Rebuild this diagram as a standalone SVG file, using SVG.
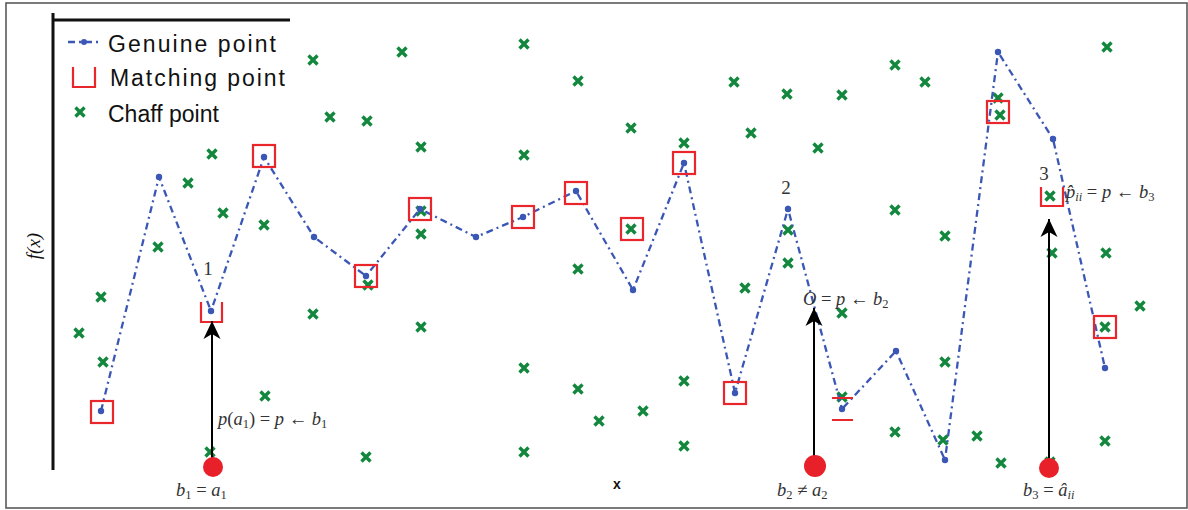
<svg xmlns="http://www.w3.org/2000/svg" xmlns:xlink="http://www.w3.org/1999/xlink" width="1188" height="510" viewBox="0 0 1188 510">
<style>
.frame{fill:#fff;stroke:#5a5a5a;stroke-width:1.6}
.axis{stroke:#111;stroke-width:3;fill:none}
.gen{fill:none;stroke:#3b57b5;stroke-width:2.3;stroke-dasharray:7 4 2 4}
.dot{fill:#3b57b5}
.mq{fill:none;stroke:#e8262c;stroke-width:2.2}
.cx{stroke:#13873d;stroke-width:3.4;fill:none}
.leg{font-family:"Liberation Sans",Arial,sans-serif;font-size:23px;fill:#111}
.math{font-family:"Liberation Serif","Times New Roman",serif;font-size:18.5px;fill:#333}
.num{font-family:"Liberation Serif","Times New Roman",serif;font-size:19px;fill:#333}
.it{font-style:italic}
.sub{font-size:12.5px}
.arrow{stroke:#000;stroke-width:2;fill:none}
.bc{fill:#e8202a}
</style>
<defs>
<path id="x" class="cx" d="M-4.5,-4.5L4.5,4.5M4.5,-4.5L-4.5,4.5"/>
<marker id="ah" viewBox="-18 -10 20 20" refX="0" refY="0" markerWidth="20" markerHeight="20" markerUnits="userSpaceOnUse" orient="auto">
<path d="M0,0L-18,-8.5L-13,0L-18,8.5Z" fill="#000"/>
</marker>
</defs>
<rect class="frame" x="6" y="3" width="1181" height="505"/>

<g id="axes">
<path class="axis" d="M53,13V470"/>
<path class="axis" d="M53,20H290"/>
<text x="40" y="246" transform="rotate(-90 40 246)" text-anchor="middle" style="font-family:'Liberation Serif',serif;font-size:19px;font-style:italic;fill:#111">f(x)</text>
<text x="617" y="489" text-anchor="middle" style="font-family:'Liberation Sans',sans-serif;font-size:14px;font-weight:bold;fill:#111">x</text>
</g>

<g id="legend">
<path class="gen" d="M68,42H102"/><circle class="dot" cx="84" cy="42" r="3"/>
<text class="leg" x="108" y="52" textLength="168">Genuine point</text>
<path class="mq" d="M73,67V87H95V67"/>
<text class="leg" x="110" y="86" textLength="175">Matching point</text>
<use xlink:href="#x" x="80" y="112"/>
<text class="leg" x="108" y="122">Chaff point</text>
</g>

<g id="chaff">
<use xlink:href="#x" x="79" y="333"/><use xlink:href="#x" x="101" y="297"/><use xlink:href="#x" x="103" y="362"/>
<use xlink:href="#x" x="158" y="247"/><use xlink:href="#x" x="188" y="183"/><use xlink:href="#x" x="212" y="154"/>
<use xlink:href="#x" x="223" y="213"/><use xlink:href="#x" x="264" y="225"/><use xlink:href="#x" x="265" y="396"/>
<use xlink:href="#x" x="210" y="452"/><use xlink:href="#x" x="313" y="60"/><use xlink:href="#x" x="402" y="52"/>
<use xlink:href="#x" x="524" y="44"/><use xlink:href="#x" x="578" y="81"/><use xlink:href="#x" x="330" y="117"/>
<use xlink:href="#x" x="367" y="121"/><use xlink:href="#x" x="421" y="147"/><use xlink:href="#x" x="524" y="155"/>
<use xlink:href="#x" x="631" y="128"/><use xlink:href="#x" x="684" y="143"/><use xlink:href="#x" x="421" y="211"/>
<use xlink:href="#x" x="421" y="234"/><use xlink:href="#x" x="368" y="285"/><use xlink:href="#x" x="313" y="314"/>
<use xlink:href="#x" x="421" y="327"/><use xlink:href="#x" x="366" y="457"/><use xlink:href="#x" x="578" y="269"/>
<use xlink:href="#x" x="524" y="368"/><use xlink:href="#x" x="578" y="389"/><use xlink:href="#x" x="599" y="421"/>
<use xlink:href="#x" x="643" y="411"/><use xlink:href="#x" x="684" y="381"/><use xlink:href="#x" x="684" y="446"/>
<use xlink:href="#x" x="524" y="452"/><use xlink:href="#x" x="631" y="229"/><use xlink:href="#x" x="734" y="82"/>
<use xlink:href="#x" x="787" y="94"/><use xlink:href="#x" x="842" y="95"/><use xlink:href="#x" x="895" y="65"/>
<use xlink:href="#x" x="925" y="82"/><use xlink:href="#x" x="751" y="133"/><use xlink:href="#x" x="818" y="148"/>
<use xlink:href="#x" x="788" y="230"/><use xlink:href="#x" x="788" y="263"/><use xlink:href="#x" x="745" y="288"/>
<use xlink:href="#x" x="842" y="313"/><use xlink:href="#x" x="842" y="397"/><use xlink:href="#x" x="895" y="210"/>
<use xlink:href="#x" x="945" y="236"/><use xlink:href="#x" x="945" y="362"/><use xlink:href="#x" x="895" y="432"/>
<use xlink:href="#x" x="943" y="440"/><use xlink:href="#x" x="977" y="436"/><use xlink:href="#x" x="1001" y="463"/>
<use xlink:href="#x" x="1050" y="462"/><use xlink:href="#x" x="1052" y="253"/><use xlink:href="#x" x="1106" y="253"/>
<use xlink:href="#x" x="1140" y="306"/><use xlink:href="#x" x="1105" y="327"/><use xlink:href="#x" x="1105" y="441"/>
<use xlink:href="#x" x="998" y="98"/><use xlink:href="#x" x="1000" y="115"/><use xlink:href="#x" x="1050" y="196"/>
<use xlink:href="#x" x="1107" y="47"/>
</g>

<g id="genuine">
<path class="gen" d="M101,411L159,177L211,311L264,157L314,237L366,276L420,209L476,237L523,217L576,191L633,290L684,163L735,393L788,209L842,409L896,351L945,460L998,52L1053,139L1105,368"/>
<g class="dot">
<circle cx="101" cy="411" r="3.2"/><circle cx="159" cy="177" r="3.2"/><circle cx="211" cy="311" r="3.2"/><circle cx="264" cy="157" r="3.2"/>
<circle cx="314" cy="237" r="3.2"/><circle cx="366" cy="276" r="3.2"/><circle cx="420" cy="209" r="3.2"/><circle cx="476" cy="237" r="3.2"/>
<circle cx="523" cy="217" r="3.2"/><circle cx="576" cy="191" r="3.2"/><circle cx="633" cy="290" r="3.2"/><circle cx="684" cy="163" r="3.2"/>
<circle cx="735" cy="393" r="3.2"/><circle cx="788" cy="209" r="3.2"/><circle cx="842" cy="409" r="3.2"/><circle cx="896" cy="351" r="3.2"/>
<circle cx="945" cy="460" r="3.2"/><circle cx="998" cy="52" r="3.2"/><circle cx="1053" cy="139" r="3.2"/><circle cx="1105" cy="368" r="3.2"/>
</g>
</g>

<g id="matching">
<rect class="mq" x="91" y="401" width="22" height="22"/>
<path class="mq" d="M201,302V322H222V302"/>
<rect class="mq" x="253" y="145" width="22" height="22"/>
<rect class="mq" x="355" y="265" width="22" height="22"/>
<rect class="mq" x="409" y="198" width="22" height="22"/>
<rect class="mq" x="512" y="206" width="22" height="22"/>
<rect class="mq" x="565" y="182" width="22" height="22"/>
<rect class="mq" x="621" y="218" width="22" height="22"/>
<rect class="mq" x="673" y="152" width="22" height="22"/>
<rect class="mq" x="724" y="382" width="22" height="22"/>
<path class="mq" d="M832,398H853M832,420H853"/>
<rect class="mq" x="987" y="101" width="22" height="22"/>
<path class="mq" d="M1041,187V206H1063V187"/>
<rect class="mq" x="1094" y="316" width="22" height="22"/>
</g>

<g id="connectors">
<path class="arrow" d="M212,466V321" marker-end="url(#ah)"/>
<path class="arrow" d="M814,466V308" marker-end="url(#ah)"/>
<path class="arrow" d="M1049,468V219" marker-end="url(#ah)"/>
</g>

<g id="node-b1">
<circle class="bc" cx="213" cy="467" r="10"/>
<text class="num" x="208" y="275" text-anchor="middle">1</text>
<text class="math" x="218" y="425"><tspan class="it">p</tspan>(<tspan class="it">a</tspan><tspan class="sub" dy="3">1</tspan><tspan dy="-3">) = </tspan><tspan class="it">p</tspan> ← <tspan class="it">b</tspan><tspan class="sub" dy="3">1</tspan></text>
<text class="math" x="176" y="496"><tspan class="it">b</tspan><tspan class="sub" dy="3">1</tspan><tspan dy="-3"> = </tspan><tspan class="it">a</tspan><tspan class="sub" dy="3">1</tspan></text>
</g>

<g id="node-b2">
<circle class="bc" cx="815" cy="466" r="11"/>
<text class="num" x="786" y="194" text-anchor="middle">2</text>
<text class="math" x="803" y="305"><tspan class="it">O</tspan> = <tspan class="it">p</tspan> ← <tspan class="it">b</tspan><tspan class="sub" dy="3">2</tspan></text>
<text class="math" x="777" y="496"><tspan class="it">b</tspan><tspan class="sub" dy="3">2</tspan><tspan dy="-3"> ≠ </tspan><tspan class="it">a</tspan><tspan class="sub" dy="3">2</tspan></text>
</g>

<g id="node-b3">
<circle class="bc" cx="1049" cy="468" r="10"/>
<text class="num" x="1044" y="180" text-anchor="middle">3</text>
<text class="math" x="1066" y="198"><tspan class="it">p̂</tspan><tspan class="it sub" dy="3">ii</tspan><tspan dy="-3"> = </tspan><tspan class="it">p</tspan> ← <tspan class="it">b</tspan><tspan class="sub" dy="3">3</tspan></text>
<text class="math" x="1023" y="496"><tspan class="it">b</tspan><tspan class="sub" dy="3">3</tspan><tspan dy="-3"> = </tspan><tspan class="it">â</tspan><tspan class="it sub" dy="3">ii</tspan></text>
</g>
</svg>
